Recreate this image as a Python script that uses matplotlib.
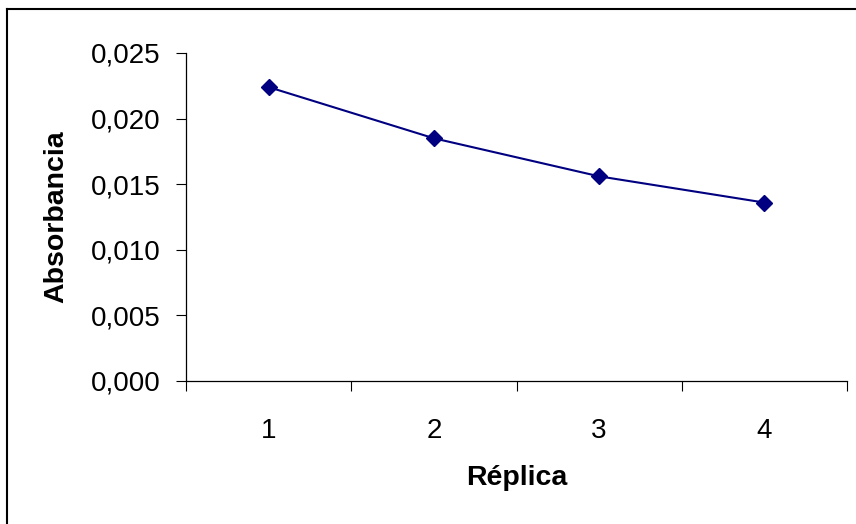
import matplotlib
matplotlib.use("Agg")
import matplotlib.pyplot as plt
from matplotlib.ticker import FuncFormatter, FixedLocator, NullFormatter

plt.rcParams['font.family'] = ['Liberation Sans', 'DejaVu Sans']

replicas = [1, 2, 3, 4]
absorbancia = [0.0224, 0.0185, 0.0156, 0.0136]
yticks = [0.000, 0.005, 0.010, 0.015, 0.020, 0.025]

fig = plt.figure(figsize=(8.56, 5.24), dpi=100)
ax = fig.add_axes([186/856, 1 - 381/524, (847 - 186)/856, (381 - 53)/524])

ax.plot(replicas, absorbancia, color='#000080', lw=1.5, marker='D', ms=8.5,
        mec='#000080', mfc='#000080')

ax.set_xlim(0.5, 4.5)
ax.set_ylim(0, 0.025)
ax.set_yticks(yticks)
ax.yaxis.set_major_formatter(FuncFormatter(lambda v, p: f"{v:.3f}".replace('.', ',')))

# category ticks between the labels, labels centred
ax.xaxis.set_major_locator(FixedLocator([0.5, 1.5, 2.5, 3.5, 4.5]))
ax.xaxis.set_major_formatter(NullFormatter())
ax.xaxis.set_minor_locator(FixedLocator(replicas))
ax.xaxis.set_minor_formatter(FuncFormatter(lambda v, p: str(int(v))))
ax.tick_params(axis='x', which='minor', length=0, pad=27, labelsize=20)
ax.tick_params(axis='x', which='major', length=7.5, width=0.8, direction='out')
ax.tick_params(axis='y', length=7.5, width=0.8, direction='out', pad=11, labelsize=20)

for s in ['top', 'right']:
    ax.spines[s].set_visible(False)
for s in ['left', 'bottom']:
    ax.spines[s].set_linewidth(0.9)

ax.set_xlabel('Réplica', fontsize=20.5, fontweight='bold')
ax.set_ylabel('Absorbancia', fontsize=20.5, fontweight='bold')
ax.xaxis.set_label_coords(0.5, -0.255)
ax.yaxis.set_label_coords(-0.177, 0.5)

# chart area border (left and top edges visible)
fig.add_artist(plt.Line2D([7.5/856, 7.5/856], [0, 1 - 9/524], transform=fig.transFigure,
                          color='black', lw=1.5))
fig.add_artist(plt.Line2D([7.5/856, 1], [1 - 9/524, 1 - 9/524], transform=fig.transFigure,
                          color='black', lw=1.5))

fig.savefig('out.png', dpi=100)
